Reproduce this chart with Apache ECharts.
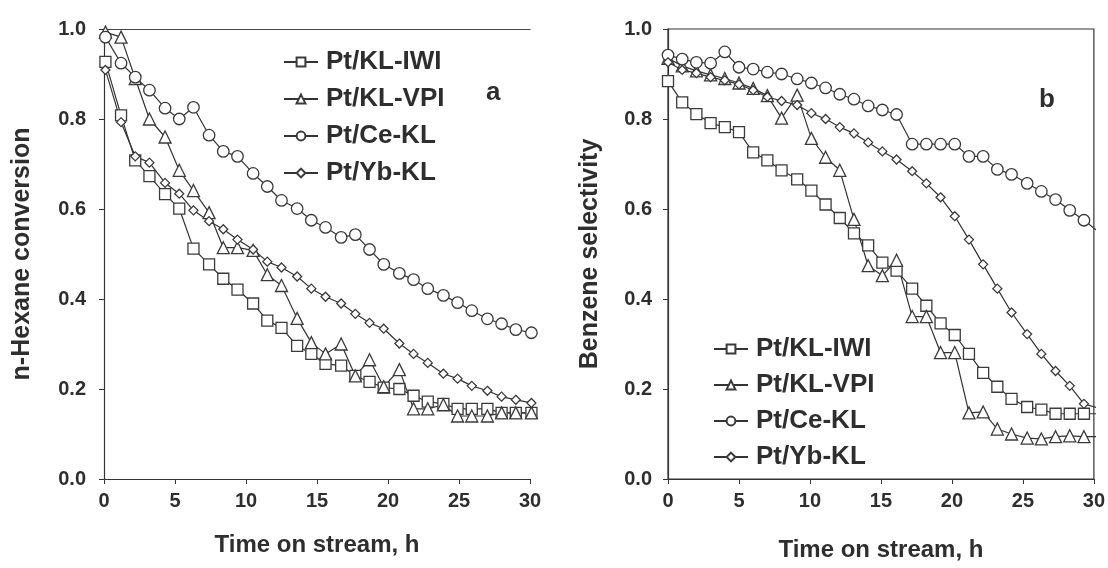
<!DOCTYPE html>
<html>
<head>
<meta charset="utf-8">
<script src="https://cdn.jsdelivr.net/npm/echarts@6/dist/echarts.min.js"></script>
<style>html,body{margin:0;padding:0;background:#fff}#c{width:1108px;height:568px}</style>
</head>
<body>
<div id="c"></div>
<script>
// ---- data ----
const names = ['Pt/KL-IWI', 'Pt/KL-VPI', 'Pt/Ce-KL', 'Pt/Yb-KL'];
const xTicks = [0, 5, 10, 15, 20, 25, 30];
const yTicks = [0.0, 0.2, 0.4, 0.6, 0.8, 1.0];

// panel a: time on stream (h)
const hoursA = [0.1,1.2,2.2,3.2,4.3,5.3,6.3,7.4,8.4,9.4,10.5,11.5,12.5,13.6,14.6,15.6,16.7,17.7,18.7,19.7,20.8,21.8,22.8,23.9,24.9,25.9,27.0,28.0,29.0,30.1];
const convIWI = [0.927,0.808,0.708,0.673,0.633,0.601,0.512,0.477,0.445,0.421,0.39,0.352,0.336,0.296,0.278,0.256,0.252,0.229,0.216,0.203,0.20,0.185,0.172,0.167,0.156,0.156,0.156,0.147,0.147,0.147];
const convVPI = [0.993,0.982,0.89,0.80,0.76,0.686,0.641,0.592,0.514,0.514,0.508,0.454,0.43,0.357,0.303,0.278,0.30,0.229,0.265,0.205,0.243,0.156,0.156,0.165,0.14,0.14,0.14,0.147,0.147,0.147];
const convCe  = [0.982,0.924,0.893,0.864,0.824,0.80,0.826,0.764,0.728,0.717,0.679,0.65,0.619,0.601,0.575,0.559,0.537,0.543,0.51,0.477,0.457,0.443,0.423,0.408,0.392,0.374,0.356,0.345,0.332,0.325];
const convYb  = [0.909,0.793,0.717,0.703,0.658,0.634,0.597,0.573,0.555,0.532,0.51,0.483,0.47,0.45,0.423,0.405,0.39,0.367,0.347,0.334,0.301,0.278,0.258,0.234,0.223,0.207,0.196,0.183,0.176,0.169];

// panel b: time on stream (h)
const hoursB = [0,1,2,3,4,5,6,7,8,9.1,10.1,11.1,12.1,13.1,14.1,15.1,16.1,17.2,18.2,19.2,20.2,21.2,22.2,23.2,24.2,25.3,26.3,27.3,28.3,29.3,30.3];
const selIWI = [0.884,0.837,0.811,0.791,0.782,0.771,0.726,0.708,0.686,0.666,0.641,0.61,0.58,0.546,0.519,0.481,0.463,0.423,0.385,0.346,0.32,0.278,0.236,0.205,0.178,0.16,0.154,0.145,0.145,0.145,0.145];
const selVPI = [0.935,0.918,0.907,0.898,0.89,0.88,0.868,0.852,0.802,0.853,0.757,0.715,0.686,0.577,0.474,0.452,0.486,0.361,0.361,0.281,0.281,0.147,0.149,0.111,0.10,0.091,0.089,0.094,0.096,0.094,0.094];
const selCe  = [0.942,0.933,0.926,0.924,0.949,0.915,0.911,0.904,0.90,0.889,0.88,0.869,0.855,0.844,0.829,0.82,0.81,0.744,0.744,0.744,0.744,0.717,0.717,0.688,0.677,0.657,0.639,0.621,0.597,0.575,0.55];
const selYb  = [0.926,0.909,0.902,0.893,0.886,0.877,0.864,0.849,0.84,0.831,0.813,0.80,0.782,0.768,0.748,0.728,0.71,0.684,0.657,0.626,0.584,0.532,0.477,0.423,0.37,0.322,0.278,0.24,0.207,0.167,0.158];

// ---- styling ----
const FONT = '"Liberation Sans", Arial, sans-serif';
const INK = '#2e2e2e';
const symbols = ['rect', 'triangle', 'circle', 'diamond'];
const symSizes = [11, 12, 11.5, 9];

function pairs(h, v) { return v.map((y, i) => [h[i], y]); }

function mkSeries(name, idx, data, axisIdx, clip) {
  return {
    type: 'line', name: name, xAxisIndex: axisIdx, yAxisIndex: axisIdx,
    data: data, symbol: symbols[idx], symbolSize: symSizes[idx], clip: clip,
    showAllSymbol: true,
    lineStyle: { color: '#333', width: 1.2 },
    itemStyle: { color: '#fff', borderColor: '#3a3a3a', borderWidth: 1.3 },
    emphasis: { disabled: true }, animation: false
  };
}

function xAx(grid, gap) {
  return {
    type: 'value', gridIndex: grid, min: xTicks[0], max: xTicks[xTicks.length - 1], interval: 5,
    name: 'Time on stream, h', nameLocation: 'middle', nameGap: gap,
    nameTextStyle: { fontFamily: FONT, fontSize: 24, fontWeight: 'bold', color: INK },
    axisLine: { show: true, lineStyle: { color: '#333', width: 1.2 } },
    axisTick: { show: true, inside: false, length: 5, lineStyle: { color: '#333' } },
    axisLabel: { fontFamily: FONT, fontSize: 20, fontWeight: 'bold', color: INK, margin: 12 },
    splitLine: { show: false }
  };
}
function yAx(grid, name, gap, margin) {
  return {
    type: 'value', gridIndex: grid, min: yTicks[0], max: yTicks[yTicks.length - 1], interval: 0.2,
    name: name, nameLocation: 'middle', nameGap: gap, nameRotate: 90,
    nameTextStyle: { fontFamily: FONT, fontSize: 25, fontWeight: 'bold', color: INK },
    axisLine: { show: true, lineStyle: { color: '#333', width: 1.2 } },
    axisTick: { show: true, inside: false, length: 5, lineStyle: { color: '#333' } },
    axisLabel: { fontFamily: FONT, fontSize: 20, fontWeight: 'bold', color: INK, margin: margin,
      formatter: v => v.toFixed(1) },
    splitLine: { show: false }
  };
}

const legendText = { fontFamily: FONT, fontSize: 26, fontWeight: 'bold', color: INK, padding: [0, 0, 0, 3] };

const chart = echarts.init(document.getElementById('c'), null, { renderer: 'canvas' });
const option = {
  backgroundColor: '#fff',
  animation: false,
  grid: [
    { left: 104, right: 578, top: 29, bottom: 89 },
    { left: 668, right: 14, top: 29, bottom: 89, show: true, borderColor: '#333', borderWidth: 1.2 }
  ],
  xAxis: [
    xAx(0, 54), xAx(1, 59),
    { type: 'value', gridIndex: 0, position: 'top', min: 0, max: 30, axisLine: { show: true, lineStyle: { color: '#444', width: 1.2 } },
      axisTick: { show: false }, axisLabel: { show: false }, splitLine: { show: false } }
  ],
  yAxis: [
    yAx(0, 'n-Hexane conversion', 69, 18),
    yAx(1, 'Benzene selectivity', 65, 16)
  ],
  legend: [
    { orient: 'vertical', left: 278, top: 44, itemWidth: 34, itemHeight: 11, itemGap: 11,
      data: names, selectedMode: false, textStyle: legendText },
    { orient: 'vertical', left: 708, top: 331, itemWidth: 34, itemHeight: 11, itemGap: 10,
      data: names, selectedMode: false, textStyle: legendText }
  ],
  graphic: [
    { type: 'text', left: 486, top: 80, style: { text: 'a', font: 'bold 26px ' + FONT, fill: INK } },
    { type: 'text', left: 1039, top: 87, style: { text: 'b', font: 'bold 26px ' + FONT, fill: INK } }
  ],
  series: [
    mkSeries(names[0], 0, pairs(hoursA, convIWI), 0, false),
    mkSeries(names[1], 1, pairs(hoursA, convVPI), 0, false),
    mkSeries(names[2], 2, pairs(hoursA, convCe), 0, false),
    mkSeries(names[3], 3, pairs(hoursA, convYb), 0, false),
    mkSeries(names[0], 0, pairs(hoursB, selIWI), 1, true),
    mkSeries(names[1], 1, pairs(hoursB, selVPI), 1, true),
    mkSeries(names[2], 2, pairs(hoursB, selCe), 1, true),
    mkSeries(names[3], 3, pairs(hoursB, selYb), 1, true)
  ]
};
chart.setOption(option);
</script>
</body>
</html>
